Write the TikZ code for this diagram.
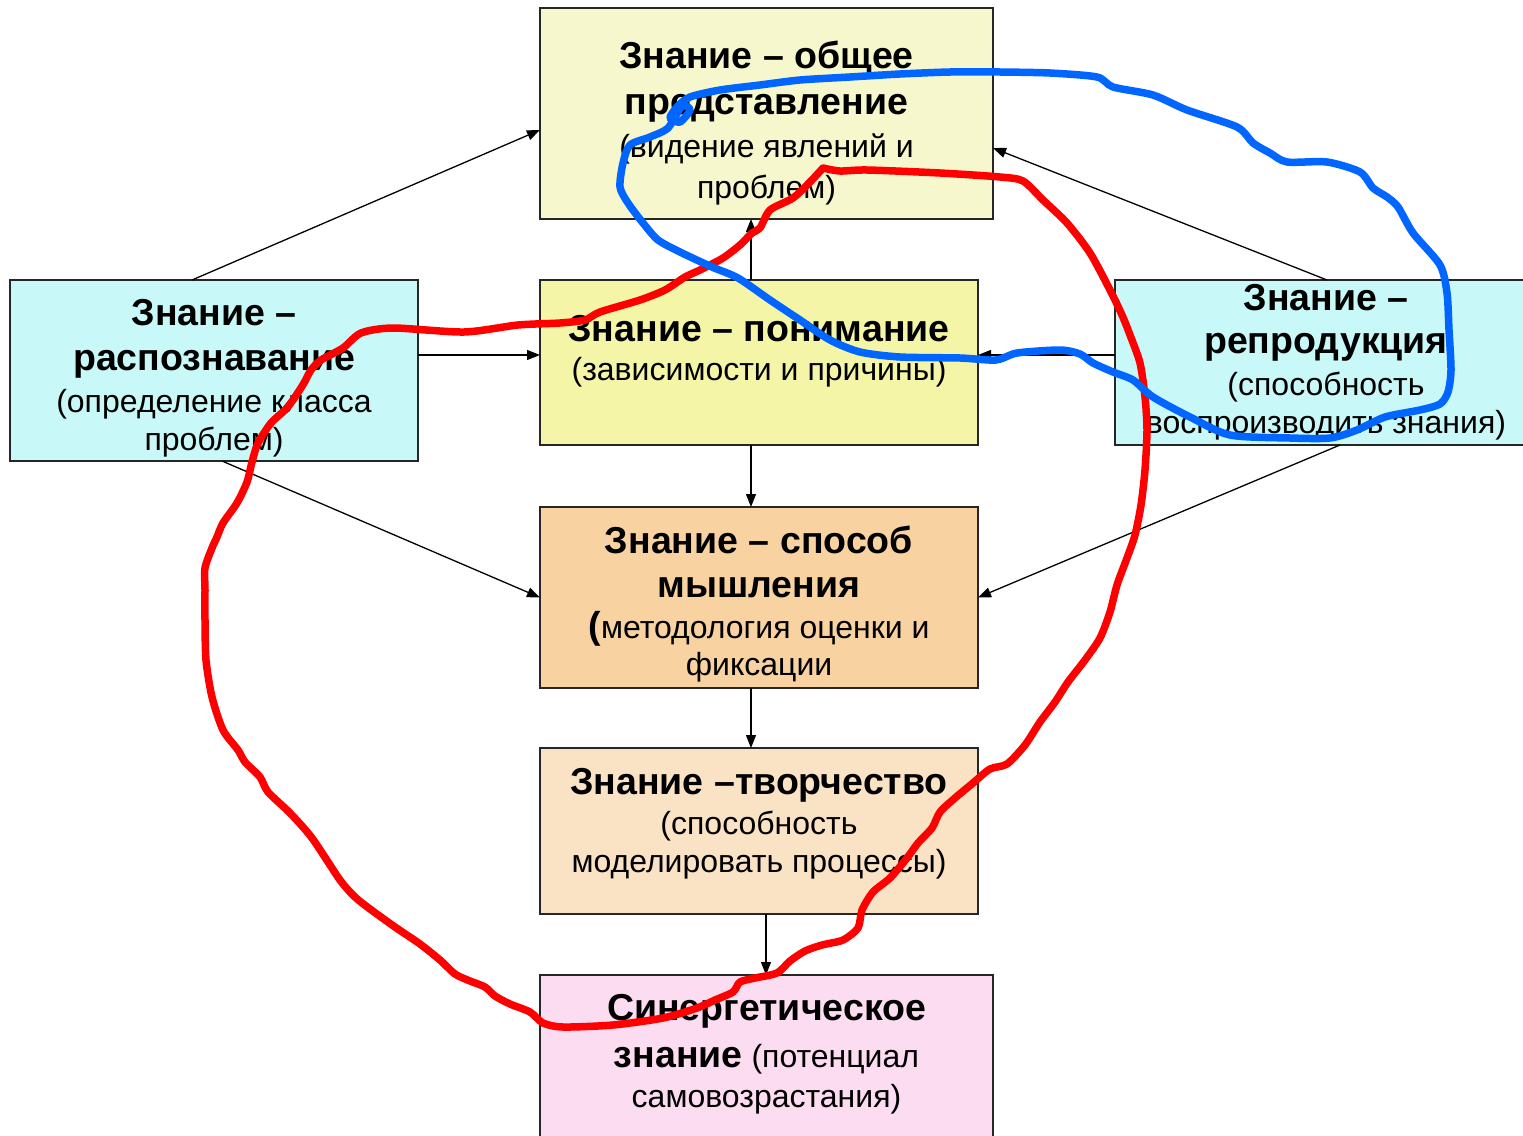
\documentclass[tikz,border=0pt]{standalone}
\usepackage{fontspec}
\setmainfont{Liberation Sans}
\usetikzlibrary{arrows.meta,calc}
\definecolor{ctop}{RGB}{247,247,206}
\definecolor{cmid}{RGB}{245,245,168}
\definecolor{ccyan}{RGB}{200,248,248}
\definecolor{corange}{RGB}{248,210,160}
\definecolor{cpeach}{RGB}{250,226,196}
\definecolor{cpink}{RGB}{252,220,240}
\definecolor{penblue}{RGB}{0,102,255}
\definecolor{penred}{RGB}{255,0,0}
\begin{document}
\begin{tikzpicture}[x=1pt,y=-1pt,
  box/.style={draw=black!85,line width=1.4pt,anchor=north west,inner sep=0pt,outer sep=0pt},
  bl/.style={font=\fontsize{37.5}{45}\selectfont\bfseries,anchor=base,inner sep=0pt},
  nl/.style={font=\fontsize{32}{40}\selectfont,anchor=base,inner sep=0pt},
  arr/.style={line width=1.3pt,-{Triangle[length=13pt,width=10pt]}},
  redpen/.style={draw=penred,line width=7.5pt,line cap=round,line join=round},
  bluepen/.style={draw=penblue,line width=7.5pt,line cap=round,line join=round}]
\useasboundingbox (0,0) rectangle (1523,1135);
\clip (0,0) rectangle (1523,1135);
\fill[white] (0,0) rectangle (1523,1135);

% boxes
\node[box,fill=ctop,minimum width=453pt,minimum height=211pt] (top) at (540,8) {};
\node[box,fill=cmid,minimum width=438pt,minimum height=165pt] (mid) at (540,280) {};
\node[box,fill=ccyan,minimum width=408pt,minimum height=181pt] (left) at (10,280) {};
\node[box,fill=ccyan,minimum width=422pt,minimum height=165pt] (right) at (1115,280) {};
\node[box,fill=corange,minimum width=438pt,minimum height=181pt] (mind) at (540,507) {};
\node[box,fill=cpeach,minimum width=438pt,minimum height=166pt] (creat) at (540,748) {};
\node[box,fill=cpink,minimum width=453pt,minimum height=170pt] (syn) at (540,975) {};

% texts
\node[bl] (t1a) at (766.5,68) {Знание – общее};
\node[bl] (t1b) at (766.5,114) {представление};
\node[nl] (t1c) at (766.5,157) {(видение явлений и};
\node[nl] (t1d) at (766.5,198) {проблем)};

\node[bl] (t2a) at (759,341) {Знание – понимание};
\node[nl] (t2b) at (759,380) {(зависимости и причины)};

\node[bl] (t3a) at (214,325) {Знание –};
\node[bl] (t3b) at (214,370) {распознавание};
\node[nl] (t3c) at (214,412) {(определение класса};
\node[nl] (t3d) at (214,450) {проблем)};

\node[bl] (t4a) at (1326,310) {Знание –};
\node[bl] (t4b) at (1326,353) {репродукция};
\node[nl] (t4c) at (1326,395) {(способность};
\node[nl] (t4d) at (1326,433) {воспроизводить знания)};

\node[bl] (t5a) at (759,553) {Знание – способ};
\node[bl] (t5b) at (759,597) {мышления};
\node[nl] (t5c) at (759,638) {{\fontsize{37.5}{45}\selectfont\bfseries(}методология оценки и};
\node[nl] (t5d) at (759,675) {фиксации};

\node[bl] (t6a) at (759,794) {Знание –творчество};
\node[nl] (t6b) at (759,834) {(способность};
\node[nl] (t6c) at (759,872) {моделировать процессы)};

\node[bl] (t7a) at (766.5,1020) {Синергетическое};
\node[nl] (t7b) at (766.5,1067) {{\fontsize{37.5}{45}\selectfont\bfseries знание} (потенциал};
\node[nl] (t7c) at (766.5,1107) {самовозрастания)};

% connectors
\draw[arr] ([xshift=182pt]left.north west) -- ([yshift=-16.5pt]top.west);
\draw[arr] ([yshift=15.5pt]left.east) -- ([yshift=7.5pt]mid.west);
\draw[arr] ([xshift=212pt]left.south west) -- (mind.west);
\draw[arr] ([xshift=212pt]right.north west) -- ([yshift=-34.5pt]top.east);
\draw[arr] ([yshift=7.5pt]right.west) -- ([yshift=7.5pt]mid.east);
\draw[arr] ([xshift=225pt]right.south west) -- (mind.east);
\draw[arr] ([xshift=-8pt]mid.north) -- ([xshift=-15.5pt]top.south);
\draw[arr] ([xshift=-8pt]mid.south) -- ([xshift=-8pt]mind.north);
\draw[arr] ([xshift=-8pt]mind.south) -- ([xshift=-8pt]creat.north);
\draw[arr] ([xshift=7pt]creat.south) -- ([xshift=-0.5pt]syn.north);

% red freehand loop
\draw[redpen] plot[smooth,tension=0.45] coordinates {
 (823,168) (840,171) (867,170) (940,173) (1000,177) (1023,181) (1043,200) (1067,223)
 (1090,253) (1110,290) (1122,315) (1130,335) (1140,363) (1145,397) (1147,430)
 (1145,470) (1141,505) (1135,535) (1127,558) (1117,585) (1110,612) (1100,638)
 (1085,660) (1068,682) (1055,702) (1040,722) (1025,745) (1007,764) (990,769)
 (973,783) (955,798) (940,812) (932,828) (918,843) (907,858) (890,878) (873,892)
 (862,910) (858,928) (843,940) (822,945) (805,951) (790,961) (777,973) (755,978)
 (740,982) (733,992) (715,1000) (697,1008) (663,1018) (613,1025) (563,1027)
 (543,1023) (530,1012) (510,1004) (495,996) (485,987) (470,981) (455,974)
 (440,960) (420,944) (395,927) (370,909) (355,897) (340,880) (312,838) (290,813)
 (268,792) (260,777) (245,762) (238,750) (223,730) (212,697) (206,660) (205,620)
 (205,590) (205,568) (212,548) (217,537) (223,523) (237,503) (247,482) (252,462)
 (258,443) (271,423) (285,410) (293,400) (304,383) (311,370) (321,360) (343,348)
 (361,333) (393,328) (464,332) (518,325) (560,323) (585,320) (600,312) (640,300)
 (665,290) (685,277) (700,270) (723,258) (740,245) (752,233) (760,228) (770,210)
 (793,198) (810,182) (823,168)};

% blue freehand loop
\draw[bluepen] plot[smooth,tension=0.45] coordinates {
 (1000,72) (950,72) (900,74) (850,77) (800,80) (760,85) (720,90) (690,97)
 (677,107) (670,118) (680,122) (690,110) (682,106) (668,128) (650,137) (630,145)
 (623,163) (620,187) (628,203) (643,223) (658,240) (680,252) (712,267) (738,278)
 (770,300) (800,320) (830,340) (860,352) (900,357) (960,358) (996,360) (1017,353)
 (1060,350) (1080,354) (1093,363) (1113,372) (1133,380) (1153,397) (1190,417)
 (1230,435) (1290,438) (1330,438) (1357,430) (1385,417) (1420,410) (1440,404)
 (1448,392) (1451,370) (1449,330) (1447,293) (1440,265) (1413,233) (1398,207)
 (1387,197) (1373,188) (1360,172) (1327,162) (1287,162) (1270,153) (1253,143)
 (1237,127) (1187,110) (1153,95) (1113,87) (1097,77) (1050,73) (1000,72)};
\end{tikzpicture}
\end{document}
